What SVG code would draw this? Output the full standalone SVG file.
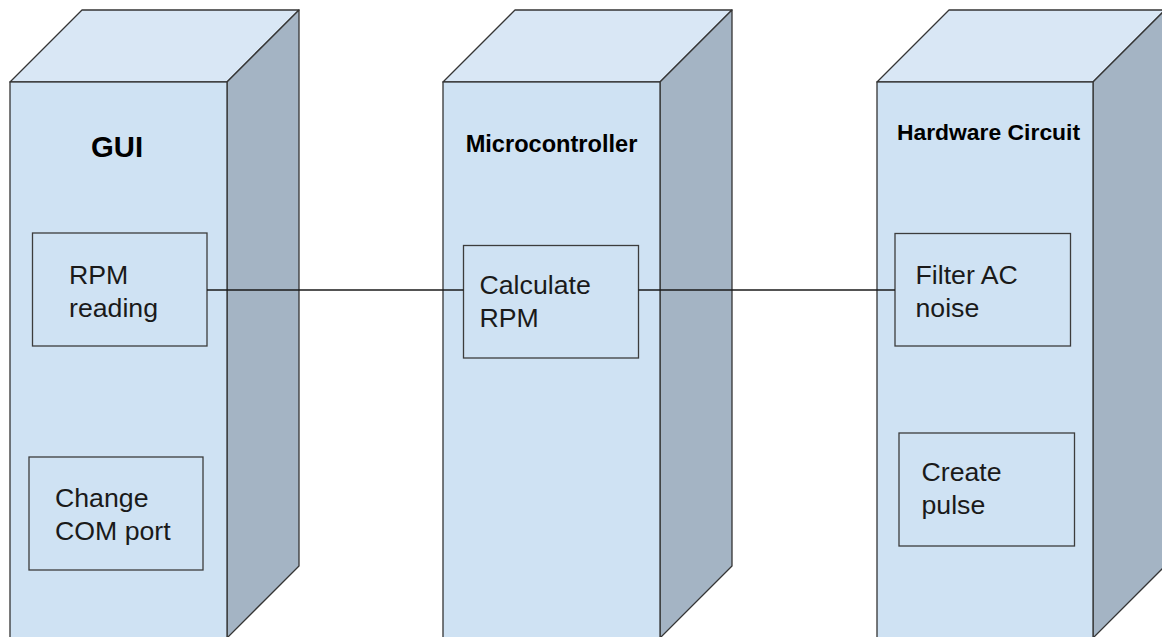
<svg xmlns="http://www.w3.org/2000/svg" width="1162" height="637" viewBox="0 0 1162 637">
  <style>
    .front { fill: #cfe2f3; stroke: #353535; stroke-width: 1.3; }
    .top { fill: #d9e7f5; stroke: #353535; stroke-width: 1.3; stroke-linejoin: round; }
    .side { fill: #a4b4c4; stroke: #353535; stroke-width: 1.3; stroke-linejoin: round; }
    .proc { fill: #cfe2f3; stroke: #3c3c3c; stroke-width: 1.3; }
    .head { font-family: "Liberation Sans", Arial, sans-serif; font-weight: bold; fill: #000; }
    .label { font-family: "Liberation Sans", Arial, sans-serif; font-size: 26.7px; fill: #1a1a1a; }
    .wire { stroke: #1a1a1a; stroke-width: 1.3; fill: none; }
  </style>
  <rect width="1162" height="637" fill="#ffffff"/>

  <!-- cube: GUI -->
  <g id="gui">
    <polygon class="top" points="10,82 82,10 299,10 227,82"/>
    <polygon class="side" points="227,82 299,10 299,566 227,638"/>
    <rect class="front" x="10" y="82" width="217" height="556"/>
    <text class="head" x="117" y="157" font-size="29.3" text-anchor="middle">GUI</text>
  </g>

  <!-- cube: Microcontroller -->
  <g id="microcontroller">
    <polygon class="top" points="443,82 515,10 732,10 660,82"/>
    <polygon class="side" points="660,82 732,10 732,566 660,638"/>
    <rect class="front" x="443" y="82" width="217" height="556"/>
    <text class="head" x="551.5" y="152" font-size="23.6" text-anchor="middle">Microcontroller</text>
  </g>

  <!-- cube: Hardware Circuit -->
  <g id="hardware-circuit">
    <polygon class="top" points="877,82 949,10 1165,10 1093,82"/>
    <polygon class="side" points="1093,82 1165,10 1165,566 1093,638"/>
    <rect class="front" x="877" y="82" width="216" height="556"/>
    <text class="head" x="988.5" y="140" font-size="22.9" text-anchor="middle">Hardware Circuit</text>
  </g>

  <!-- process boxes -->
  <g id="rpm-reading">
    <rect class="proc" x="32.5" y="233" width="174.5" height="113"/>
    <text class="label" x="69" y="284">RPM</text>
    <text class="label" x="69" y="317">reading</text>
  </g>

  <g id="change-com-port">
    <rect class="proc" x="29" y="457" width="174" height="113"/>
    <text class="label" x="55" y="507">Change</text>
    <text class="label" x="55" y="540">COM port</text>
  </g>

  <g id="calculate-rpm">
    <rect class="proc" x="463.5" y="245.5" width="175" height="112.5"/>
    <text class="label" x="479.5" y="293.5">Calculate</text>
    <text class="label" x="479.5" y="326.5">RPM</text>
  </g>

  <g id="filter-ac-noise">
    <rect class="proc" x="895" y="233.5" width="175.5" height="112.5"/>
    <text class="label" x="915.5" y="283.5">Filter AC</text>
    <text class="label" x="915.5" y="316.5">noise</text>
  </g>

  <g id="create-pulse">
    <rect class="proc" x="899" y="433" width="175.5" height="113"/>
    <text class="label" x="921.5" y="481">Create</text>
    <text class="label" x="921.5" y="514">pulse</text>
  </g>

  <!-- connectors -->
  <g id="connectors">
    <line class="wire" x1="207" y1="290" x2="463.5" y2="290"/>
    <line class="wire" x1="638.5" y1="290" x2="895" y2="290"/>
  </g>
</svg>
